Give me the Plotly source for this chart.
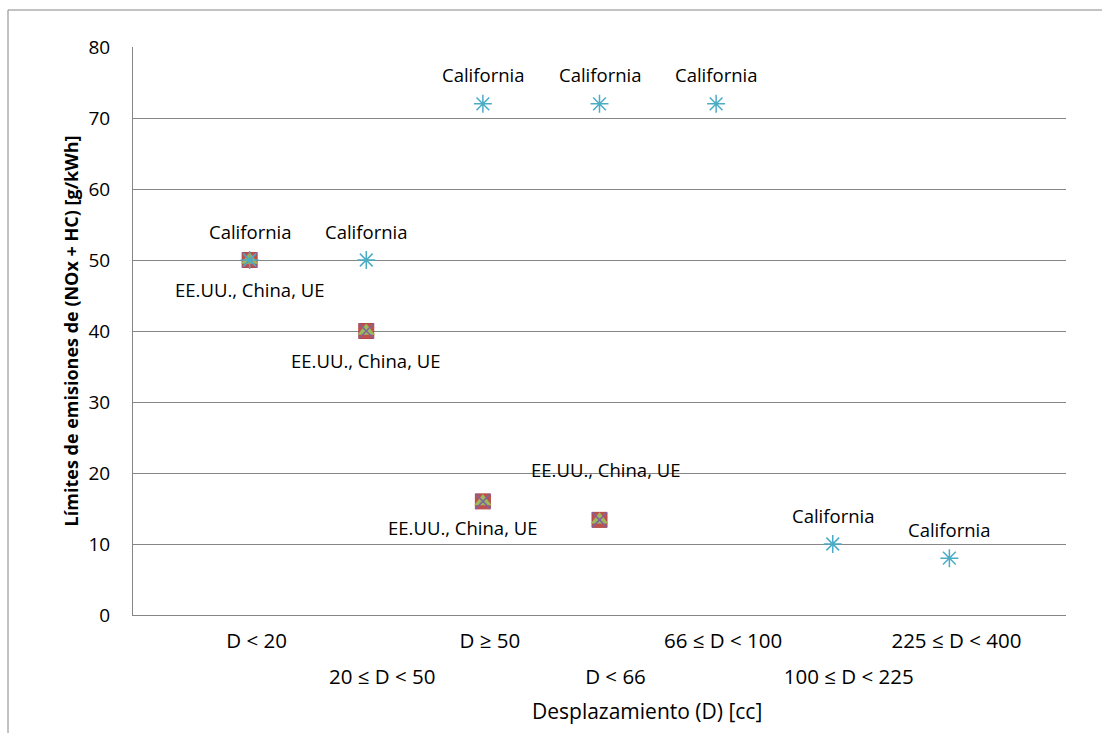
import plotly.graph_objects as go

# Displacement classes (category axis positions 1..7)
categories = ["D < 20", "20 ≤ D < 50", "D ≥ 50", "D < 66",
              "66 ≤ D < 100", "100 ≤ D < 225", "225 ≤ D < 400"]
cat_pos = list(range(1, len(categories) + 1))

# NOx + HC limits [g/kWh]; None where a region has no limit for that class
eeuu = [50, 40, 16, 13.4, None, None, None]
china = [50, 40, 16, 13.4, None, None, None]
ue = [50, 40, 16, 13.4, None, None, None]
california = [50, 50, 72, 72, 72, 10, 8]

y_ticks = [0, 10, 20, 30, 40, 50, 60, 70, 80]

FONT = "Open Sans"
TXT = "#000000"
GRID = "#868686"


def pts(values):
    xs = [c for c, v in zip(cat_pos, values) if v is not None]
    ys = [v for v in values if v is not None]
    return xs, ys


fig = go.Figure()

x, y = pts(eeuu)
fig.add_trace(go.Scatter(x=x, y=y, mode="markers", name="EE.UU.",
                         marker=dict(symbol="square", size=15, color="#C0504D",
                                     line=dict(color="#B14A47", width=1))))
x, y = pts(china)
fig.add_trace(go.Scatter(x=x, y=y, mode="markers", name="China",
                         marker=dict(symbol="triangle-up", size=15, color="#9BBB59",
                                     line=dict(width=0))))
x, y = pts(ue)
fig.add_trace(go.Scatter(x=x, y=y, mode="markers", name="UE",
                         marker=dict(symbol="x-thin-open", size=15, color="#8064A2",
                                     line=dict(color="#8064A2", width=1.5))))
x, y = pts(california)
fig.add_trace(go.Scatter(x=x, y=y, mode="markers", name="California",
                         marker=dict(symbol="asterisk-open", size=15, color="#4BACC6",
                                     line=dict(color="#4BACC6", width=1.5))))

# Data labels
lab_font = dict(family=FONT, size=18.5, color=TXT)
for c, v in zip(cat_pos, california):
    fig.add_annotation(x=c, y=v, text="California", showarrow=False,
                       yshift=29, font=lab_font)

group_shift = {1: (0, -29), 2: (0, -29), 3: (-20, -26), 4: (6, 50)}
for c, v in zip(cat_pos, eeuu):
    if v is None:
        continue
    dx, dy = group_shift[c]
    fig.add_annotation(x=c, y=v, text="EE.UU., China, UE", showarrow=False,
                       xshift=dx, yshift=dy, font=lab_font)

# X-axis title, centred on the chart area rather than the plot area
fig.add_annotation(xref="paper", yref="paper", x=(647 - 133) / 933, y=(615 - 711) / 568,
                   xanchor="center", yanchor="middle", showarrow=False,
                   text="Desplazamiento (D) [cc]",
                   font=dict(family=FONT, size=21, color=TXT))

# Outer chart frame
fig.add_shape(type="rect", xref="paper", yref="paper",
              x0=(8 - 133) / 933, x1=(1110 - 133) / 933,
              y0=(118 - 740) / 568, y1=(733 - 10 - 118) / 568,
              line=dict(color="#868686", width=1), layer="below")

xtick_font = dict(family=FONT, size=20.5, color=TXT)
ytick_font = dict(family=FONT, size=19, color=TXT)
fig.update_layout(
    width=1102, height=733,
    margin=dict(l=133, r=36, t=47, b=118),
    paper_bgcolor="white", plot_bgcolor="white",
    showlegend=False,
    xaxis=dict(range=[0, 8], tickvals=cat_pos[0::2], ticktext=categories[0::2],
               showgrid=False, zeroline=False, showline=True, linecolor=GRID,
               ticks="", tickfont=xtick_font, ticklabelstandoff=7,
               ticklabelshift=7),
    xaxis2=dict(range=[0, 8], overlaying="x", side="bottom", anchor="y",
                tickvals=cat_pos[1::2], ticktext=categories[1::2],
                showgrid=False, zeroline=False, showline=False,
                ticks="", tickfont=xtick_font, ticklabelstandoff=47,
                ticklabelshift=16),
    yaxis=dict(range=[0, 80], tickvals=y_ticks, showgrid=True, gridcolor=GRID,
               gridwidth=1, zeroline=False, showline=True, linecolor=GRID,
               ticks="", tickfont=ytick_font, ticklabelstandoff=18,
               title=dict(text="<b>Límites de emisiones de (NOx + HC) [g/kWh]</b>",
                          font=dict(family=FONT, size=18, color=TXT), standoff=5)),
)

# Invisible trace to activate the secondary category axis
fig.add_trace(go.Scatter(x=[cat_pos[0]], y=[None], xaxis="x2", showlegend=False,
                         hoverinfo="skip"))

fig.write_html("out.html")
